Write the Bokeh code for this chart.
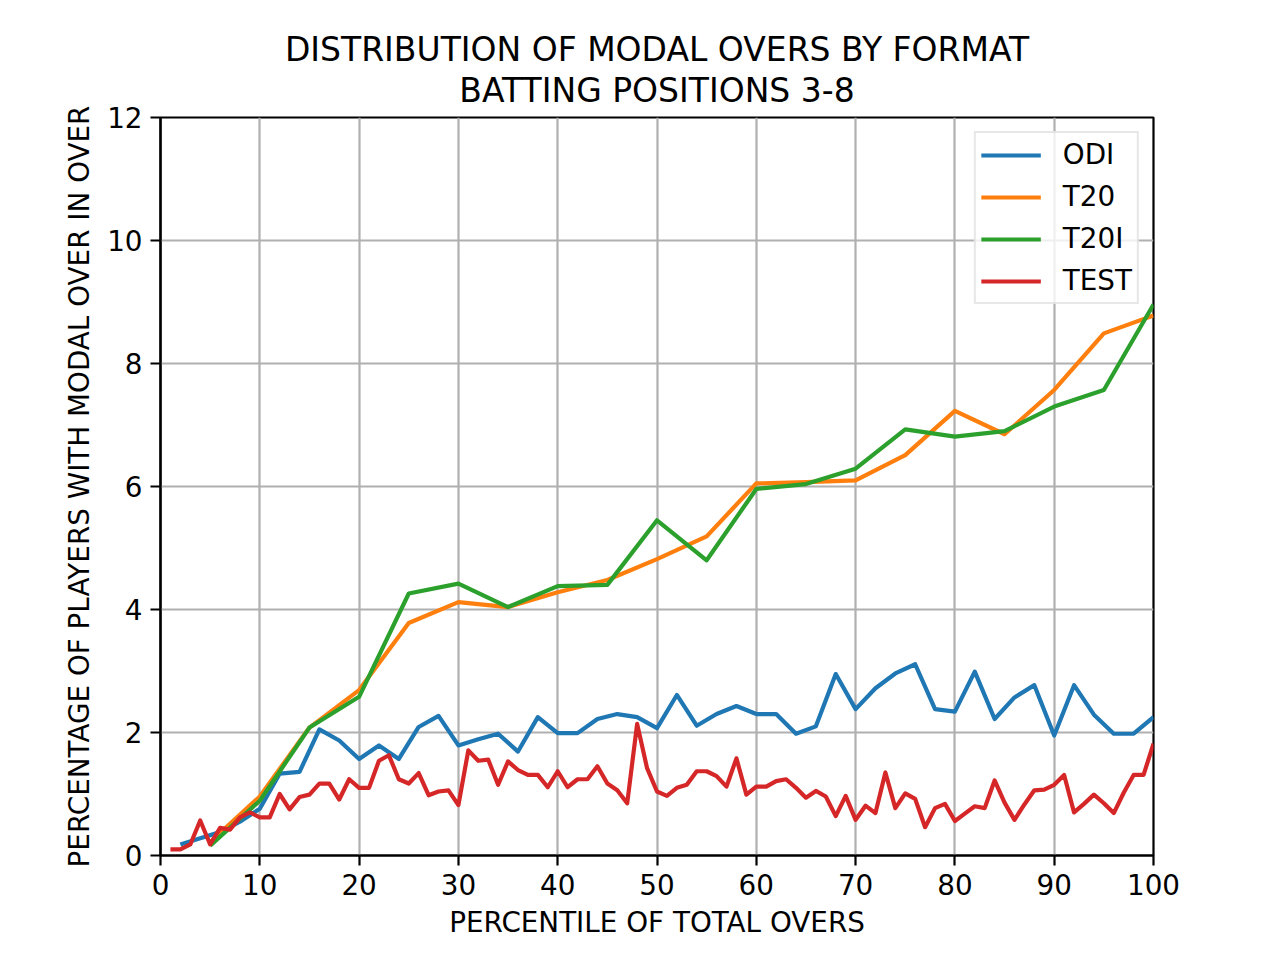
from bokeh.plotting import figure
from bokeh.models import Range1d, FixedTicker, Title, Legend, LegendItem
from bokeh.embed import file_html
from bokeh.resources import INLINE

# ---- data ----
odi_x = list(range(2, 101, 2))
odi_y = [0.18, 0.28, 0.38, 0.55, 0.76, 1.33, 1.36, 2.05, 1.87, 1.57,
         1.79, 1.57, 2.09, 2.27, 1.79, 1.89, 1.98, 1.69, 2.25, 1.99,
         1.99, 2.22, 2.30, 2.25, 2.07, 2.61, 2.11, 2.30, 2.43, 2.30,
         2.30, 1.98, 2.10, 2.95, 2.38, 2.72, 2.96, 3.11, 2.38, 2.34,
         2.99, 2.22, 2.57, 2.77, 1.95, 2.77, 2.29, 1.98, 1.98, 2.25]

t20_x = list(range(5, 101, 5))
t20_y = [0.22, 0.96, 2.08, 2.69, 3.78, 4.12, 4.04, 4.28, 4.48, 4.82,
         5.19, 6.05, 6.07, 6.10, 6.51, 7.23, 6.85, 7.57, 8.49, 8.78]

t20i_x = list(range(5, 101, 5))
t20i_y = [0.16, 0.89, 2.08, 2.58, 4.26, 4.42, 4.04, 4.38, 4.40, 5.45,
          4.80, 5.96, 6.04, 6.29, 6.93, 6.81, 6.90, 7.30, 7.57, 8.96]

test_x = list(range(1, 101))
test_y = [0.10, 0.10, 0.18, 0.57, 0.18, 0.45, 0.42, 0.62, 0.70, 0.62,
          0.62, 1.00, 0.75, 0.95, 0.99, 1.17, 1.17, 0.91, 1.24, 1.10,
          1.10, 1.54, 1.63, 1.24, 1.17, 1.34, 0.98, 1.04, 1.06, 0.82,
          1.71, 1.54, 1.56, 1.15, 1.53, 1.39, 1.31, 1.31, 1.11, 1.37,
          1.11, 1.24, 1.24, 1.45, 1.17, 1.06, 0.85, 2.14, 1.42, 1.04,
          0.97, 1.10, 1.15, 1.37, 1.37, 1.29, 1.12, 1.58, 0.99, 1.12,
          1.12, 1.21, 1.24, 1.10, 0.94, 1.05, 0.96, 0.64, 0.97, 0.58,
          0.81, 0.69, 1.35, 0.77, 1.01, 0.92, 0.46, 0.77, 0.84, 0.56,
          0.68, 0.80, 0.77, 1.22, 0.86, 0.58, 0.83, 1.06, 1.07, 1.15,
          1.31, 0.70, 0.84, 0.99, 0.85, 0.69, 1.02, 1.31, 1.31, 1.82]

x_ticks = [0, 10, 20, 30, 40, 50, 60, 70, 80, 90, 100]
y_ticks = [0, 2, 4, 6, 8, 10, 12]

title_lines = ["DISTRIBUTION OF MODAL OVERS BY FORMAT", "BATTING POSITIONS 3-8"]
x_label = "PERCENTILE OF TOTAL OVERS"
y_label = "PERCENTAGE OF PLAYERS WITH MODAL OVER IN OVER"

series = [("ODI", odi_x, odi_y, "#1f77b4"),
          ("T20", t20_x, t20_y, "#ff7f0e"),
          ("T20I", t20i_x, t20i_y, "#2ca02c"),
          ("TEST", test_x, test_y, "#d62728")]

FONT = "DejaVu Sans"
FS = "27.8px"

p = figure(width=1270, height=950, output_backend="svg", toolbar_location=None,
           x_range=Range1d(0, 100), y_range=Range1d(0, 12),
           min_border_left=160, min_border_right=117,
           min_border_top=117, min_border_bottom=95)
p.title = None

# two centred title lines (last added is outermost)
p.add_layout(Title(text=title_lines[1], align="center", text_font=FONT,
                   text_font_size="33px", text_font_style="normal",
                   text_color="black", standoff=15), "above")
p.add_layout(Title(text=title_lines[0], align="center", text_font=FONT,
                   text_font_size="33px", text_font_style="normal",
                   text_color="black", standoff=-15), "above")

p.background_fill_color = "white"
p.border_fill_color = "white"
p.outline_line_color = "black"
p.outline_line_width = 2.2

for ax in (p.xaxis[0], p.yaxis[0]):
    ax.axis_line_color = "black"
    ax.axis_line_width = 2.2
    ax.major_tick_line_color = "black"
    ax.major_tick_line_width = 2.2
    ax.major_tick_out = 10
    ax.major_tick_in = 0
    ax.minor_tick_out = 0
    ax.minor_tick_in = 0
    ax.major_label_text_font = FONT
    ax.major_label_text_font_size = FS
    ax.major_label_text_color = "black"
    ax.major_label_standoff = 8
    ax.axis_label_text_font = FONT
    ax.axis_label_text_font_size = FS
    ax.axis_label_text_font_style = "normal"
    ax.axis_label_text_color = "black"
    ax.axis_label_standoff = 8

p.xaxis[0].ticker = FixedTicker(ticks=x_ticks)
p.yaxis[0].ticker = FixedTicker(ticks=y_ticks)
p.xaxis[0].axis_label = x_label
p.yaxis[0].axis_label = y_label

p.grid.grid_line_color = "#b0b0b0"
p.grid.grid_line_width = 2.2
p.xgrid[0].ticker = FixedTicker(ticks=x_ticks)
p.ygrid[0].ticker = FixedTicker(ticks=y_ticks)

items = []
for name, xs, ys, col in series:
    r = p.line(xs, ys, line_color=col, line_width=4.2, line_join="round")
    items.append(LegendItem(label=name, renderers=[r]))

legend = Legend(items=items, location="top_right",
                label_text_font=FONT, label_text_font_size=FS,
                label_text_color="black",
                glyph_width=60, glyph_height=26, label_height=26,
                label_standoff=22, spacing=9, padding=5, margin=14,
                border_line_color="#d0d0d0", border_line_width=2,
                background_fill_color="white", background_fill_alpha=0.8)
p.add_layout(legend)

open("out.html", "w").write(file_html(p, INLINE))
